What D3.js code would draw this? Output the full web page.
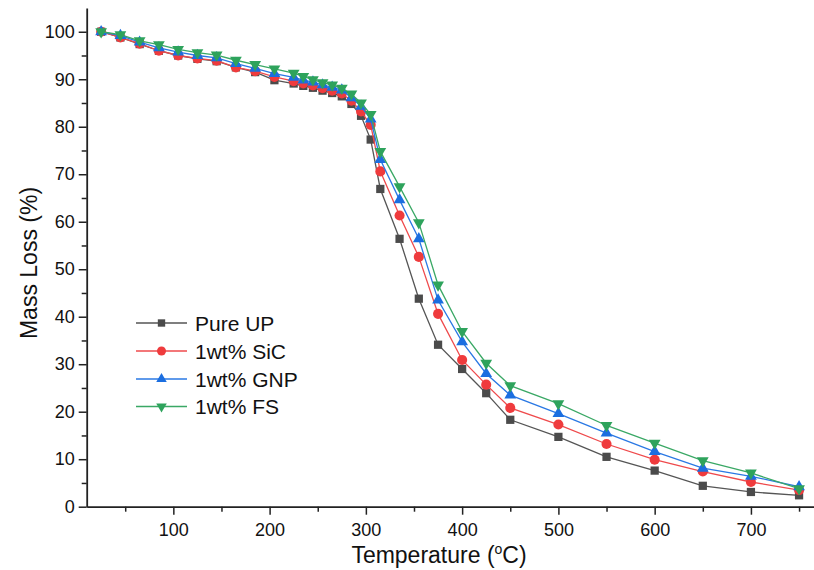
<!DOCTYPE html>
<html>
<head>
<meta charset="utf-8">
<script src="https://cdn.jsdelivr.net/npm/d3@7"></script>
<style>
  html, body { margin: 0; padding: 0; background: #fff; }
  svg { display: block; font-family: Arial, "Liberation Sans", sans-serif; }
</style>
</head>
<body>
<svg id="chart" width="814" height="570"></svg>
<script>
const temperatures = [25,45,65,85,105,125,145,165,185,205,225,235,245,255,265,275,285,295,305,315,335,355,375,400,425,450,500,550,600,650,700,750];
const pureUP = [100,98.8,97.4,96.0,95.0,94.3,93.8,92.5,91.5,89.8,89.1,88.6,88.2,87.6,87.1,86.4,84.8,82.3,77.3,66.9,56.4,43.8,34.1,29.0,23.9,18.3,14.7,10.5,7.6,4.4,3.1,2.4];
const sic = [100,98.8,97.5,96.0,95.0,94.4,93.9,92.5,91.7,90.5,89.6,89.1,88.7,88.1,87.6,87.0,85.5,83.2,80.4,70.6,61.3,52.6,40.6,30.9,25.7,20.8,17.3,13.2,9.9,7.4,5.2,3.5];
const gnp = [100,99.2,97.8,96.6,95.7,95.0,94.5,93.3,92.3,91.2,90.4,89.8,89.4,88.8,88.3,87.7,86.1,84.3,81.6,73.1,64.6,56.4,43.5,34.7,28.0,23.5,19.6,15.5,11.6,8.1,6.4,4.2];
const fs = [100,99.4,98.1,97.3,96.3,95.6,95.1,94.0,93.1,92.2,91.3,90.6,89.9,89.3,88.8,88.1,86.9,85.0,82.6,74.8,67.4,59.8,46.7,36.9,30.2,25.5,21.7,17.1,13.4,9.7,7.1,3.8];
const seriesNames = ["Pure UP", "1wt% SiC", "1wt% GNP", "1wt% FS"];
const xTicks = [100,200,300,400,500,600,700];
const xMinorTicks = [50,150,250,350,450,550,650,750];
const yTicks = [0,10,20,30,40,50,60,70,80,90,100];
const yMinorTicks = [5,15,25,35,45,55,65,75,85,95];

const seriesValues = [pureUP, sic, gnp, fs];
const colors = ["#4b4b4b", "#ef3b3d", "#1b6ee0", "#2ea35c"];
const lineColors = ["#555555", "#ef4a4c", "#2a78e4", "#3aa865"];
const symbols = [d3.symbolSquare, d3.symbolCircle, d3.symbolTriangle, d3.symbolTriangle];
const symSizes = [68, 80, 60, 60];
const symRot = [0, 0, 0, 180];

const svg = d3.select("#chart");
const mLeft = 86.7, mRight = 813.5, mTop = 8, mBottom = 506.7;
const x = d3.scaleLinear().domain([10, 765]).range([mLeft, mRight]);
const y = d3.scaleLinear().domain([0, 105]).range([mBottom, mTop]);

// Axes
const xAxis = svg.append("g").attr("transform", `translate(0,${mBottom})`)
  .call(d3.axisBottom(x).tickValues(xTicks).tickSize(8).tickSizeOuter(0).tickPadding(4));
svg.append("g").attr("transform", `translate(0,${mBottom})`)
  .call(d3.axisBottom(x).tickValues(xMinorTicks).tickSize(5).tickSizeOuter(0).tickFormat(""))
  .select(".domain").remove();
const yAxis = svg.append("g").attr("transform", `translate(${mLeft},0)`)
  .call(d3.axisLeft(y).tickValues(yTicks).tickSize(8).tickSizeOuter(0).tickPadding(4));
svg.append("g").attr("transform", `translate(${mLeft},0)`)
  .call(d3.axisLeft(y).tickValues(yMinorTicks).tickSize(5).tickSizeOuter(0).tickFormat(""))
  .select(".domain").remove();

svg.selectAll(".domain").attr("stroke", "#222").attr("stroke-width", 1.8);
svg.selectAll(".tick line").attr("stroke", "#222").attr("stroke-width", 1.5);
svg.selectAll(".tick text").attr("font-size", 18).attr("fill", "#111")
  .attr("font-family", "Arial, 'Liberation Sans', sans-serif");
xAxis.selectAll(".tick text").attr("dy", "0.95em");

// Series
seriesValues.forEach((vals, i) => {
  const pts = temperatures.map((t, k) => [t, vals[k]]);
  const line = d3.line().x(d => x(d[0])).y(d => y(d[1]));
  const g = svg.append("g");
  g.append("path").datum(pts).attr("d", line)
    .attr("fill", "none").attr("stroke", lineColors[i]).attr("stroke-width", 1.3);
  g.selectAll("path.m").data(pts).enter().append("path").attr("class", "m")
    .attr("d", d3.symbol().type(symbols[i]).size(symSizes[i]))
    .attr("transform", d => `translate(${x(d[0])},${y(d[1])}) rotate(${symRot[i]})`)
    .attr("fill", colors[i]);
});

// Legend
const legend = svg.append("g");
const legY = [323, 351, 379, 406.5];
seriesNames.forEach((name, i) => {
  const g = legend.append("g").attr("transform", `translate(0,${legY[i]})`);
  g.append("line").attr("x1", 136).attr("x2", 187).attr("y1", 0).attr("y2", 0)
    .attr("stroke", lineColors[i]).attr("stroke-width", 1.3);
  g.append("path").attr("d", d3.symbol().type(symbols[i]).size(symSizes[i] * 0.8))
    .attr("transform", `translate(161.5,0) rotate(${symRot[i]})`).attr("fill", colors[i]);
  g.append("text").attr("x", 195).attr("y", 0).attr("dy", "0.36em")
    .attr("font-size", 21).attr("fill", "#111").text(name);
});

// Axis titles
const xt = svg.append("text").attr("x", 439).attr("y", 563).attr("text-anchor", "middle")
  .attr("font-size", 23).attr("fill", "#111");
xt.append("tspan").text("Temperature (");
xt.append("tspan").attr("font-size", 14).attr("dy", -9).text("o");
xt.append("tspan").attr("dy", 9).text("C)");

svg.append("text").attr("transform", "translate(37,263) rotate(-90)")
  .attr("text-anchor", "middle").attr("font-size", 23).attr("fill", "#111")
  .text("Mass Loss (%)");
</script>
</body>
</html>
